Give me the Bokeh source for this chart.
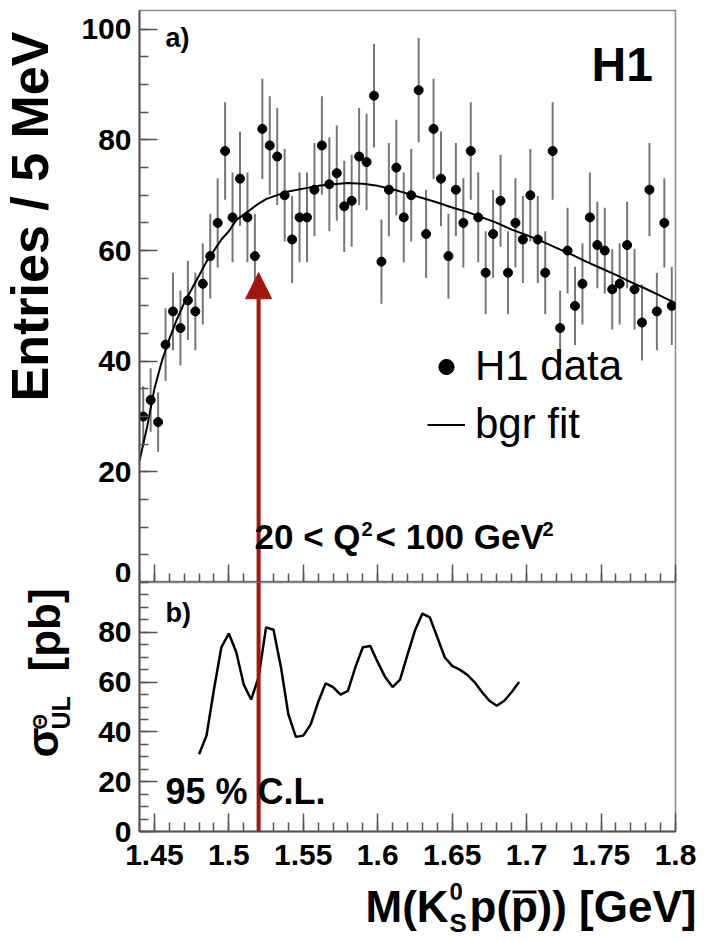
import numpy as np
from bokeh.plotting import figure
from bokeh.layouts import column, row
from bokeh.models import (Range1d, FixedTicker, Label, Arrow, NormalHead, Span, BoxAnnotation,
                          Legend, LegendItem, ColumnDataSource)
from bokeh.embed import file_html
from bokeh.resources import INLINE

# ---------------- data ----------------
bin_low = 1.44
bin_width = 0.005
entries = [30, 33, 29, 43, 49, 46, 51, 49, 54, 59,
           65, 78, 66, 73, 66, 59, 82, 79, 77, 70,
           62, 66, 66, 71, 79, 72, 74, 68, 69, 77,
           76, 88, 58, 71, 75, 66, 70, 89, 63, 82,
           73, 59, 71, 65, 78, 66, 56, 63, 69, 56,
           65, 62, 70, 62, 56, 78, 46, 60, 50, 54,
           66, 61, 60, 53, 54, 61, 53, 47, 71, 49,
           65, 50]

fit_mass = [1.440, 1.445, 1.450, 1.455, 1.460, 1.465, 1.470, 1.475, 1.480, 1.485,
            1.490, 1.495, 1.500, 1.505, 1.510, 1.515, 1.520, 1.525, 1.530, 1.540,
            1.550, 1.560, 1.570, 1.580, 1.590, 1.600, 1.610, 1.620, 1.630, 1.640,
            1.650, 1.660, 1.670, 1.680, 1.690, 1.700, 1.710, 1.720, 1.730, 1.740,
            1.750, 1.760, 1.770, 1.780, 1.790, 1.800]
fit_entries = [22, 28, 35, 40, 44, 47.5, 50.5, 53, 55.5, 58,
               60, 62, 63.5, 65.5, 66.5, 67.5, 68.5, 69.3, 69.8, 70.7,
               71.2, 71.7, 72, 72.2, 72.1, 71.7, 71.1, 70.3, 69.5, 68.7,
               67.8, 67, 66, 65, 63.8, 62.8, 61.7, 60.5, 59.3, 58,
               56.8, 55.6, 54.3, 53.1, 51.8, 50.5]

ul_mass = [1.480, 1.485, 1.490, 1.495, 1.500, 1.505, 1.510, 1.515, 1.520, 1.525,
           1.530, 1.535, 1.540, 1.545, 1.550, 1.555, 1.560, 1.565, 1.570, 1.575,
           1.580, 1.585, 1.590, 1.595, 1.600, 1.605, 1.610, 1.615, 1.620, 1.625,
           1.630, 1.635, 1.640, 1.645, 1.650, 1.655, 1.660, 1.665, 1.670, 1.675,
           1.680, 1.685, 1.690, 1.695]
ul_sigma = [31, 38.5, 57, 74, 79.5, 72, 59, 53, 62, 82,
            81, 66, 47, 38, 38.5, 43, 52, 59.5, 58, 55,
            56.5, 66, 74, 74.5, 68, 62, 58, 61, 71, 80.7,
            87.5, 86, 78, 70, 66.5, 65, 63, 60, 56, 52.5,
            50.5, 52.5, 56, 60]

arrow_mass = 1.52
arrow_tip = 56

x_ticks = [1.45, 1.5, 1.55, 1.6, 1.65, 1.7, 1.75, 1.8]
x_tick_labels = ["1.45", "1.5", "1.55", "1.6", "1.65", "1.7", "1.75", "1.8"]
x_minor = [round(1.44 + 0.01 * i, 2) for i in range(37)]
top_y_ticks = [0, 20, 40, 60, 80, 100]
bot_y_ticks = [0, 20, 40, 60, 80]
y_minor = list(range(0, 105, 5))

# ---------------- helpers ----------------
FONT = "Liberation Sans"
RED = "#a3160f"
AX = "#555555"
MID = 0.45  # distance (in em) from baseline to the middle of the text box

mass = [bin_low + bin_width * (i + 0.5) for i in range(len(entries))]
err = np.sqrt(np.array(entries, dtype=float))
src = ColumnDataSource(dict(x=mass, y=entries,
                            lo=np.array(entries) - err, hi=np.array(entries) + err))


def style_axes(p, show_x_labels):
    p.grid.grid_line_color = None
    p.outline_line_color = "#8a8a8a"
    p.outline_line_width = 1.5
    p.background_fill_color = "white"
    p.border_fill_color = "white"
    for ax in (p.xaxis[0], p.yaxis[0]):
        ax.axis_line_color = AX
        ax.axis_line_width = 2
        ax.major_tick_line_color = AX
        ax.minor_tick_line_color = AX
        ax.major_tick_line_width = 1.5
        ax.minor_tick_line_width = 1.5
        ax.major_tick_in = 18
        ax.major_tick_out = 0
        ax.minor_tick_in = 9
        ax.minor_tick_out = 0
        ax.major_label_text_font = FONT
        ax.major_label_text_font_style = "bold"
        ax.major_label_text_font_size = "30px"
        ax.major_label_text_color = "black"
    p.xaxis.ticker = FixedTicker(ticks=x_ticks, minor_ticks=x_minor)
    p.xaxis.major_label_overrides = dict(zip(x_ticks, x_tick_labels))
    p.yaxis.major_label_standoff = 8
    if show_x_labels:
        p.xaxis.major_label_standoff = 13
    else:
        p.xaxis.major_label_text_font_size = "0px"
        p.xaxis.major_label_text_color = None
        p.xaxis.major_label_standoff = 0


def lab(p, text, x, y, size, bold=True, vertical=False, align="left"):
    """x, y: position of the text baseline start (screen px, frame-relative)."""
    if vertical:
        x, angle = x - MID * size, np.pi / 2
    else:
        y, angle = y + MID * size, 0.0
    p.add_layout(Label(x=x, y=y, x_units="screen", y_units="screen", text=text,
                       text_font=FONT, text_font_size=f"{size}px",
                       text_font_style="bold" if bold else "normal",
                       text_color="black", angle=angle, text_align=align,
                       text_baseline="middle"))


def blank(width, height):
    f = figure(width=width, height=height, x_range=Range1d(0, 1), y_range=Range1d(0, 1),
               output_backend="svg", toolbar_location=None,
               x_axis_location=None, y_axis_location=None, min_border=0)
    f.grid.grid_line_color = None
    f.outline_line_color = None
    return f


# ---------------- top panel ----------------
top = figure(width=632, height=582, x_range=Range1d(1.44, 1.80), y_range=Range1d(0, 103.4),
             output_backend="svg", toolbar_location=None,
             min_border_left=59, min_border_right=35, min_border_top=10, min_border_bottom=0)
style_axes(top, False)
top.yaxis.ticker = FixedTicker(ticks=top_y_ticks, minor_ticks=y_minor)

top.segment(x0="x", y0="lo", x1="x", y1="hi", source=src, line_color="#777777", line_width=2)
fit_r = top.line(fit_mass, fit_entries, line_color="black", line_width=2)
pts = top.scatter("x", "y", source=src, size=9, fill_color="black", line_color="black")

top.add_layout(Arrow(end=NormalHead(size=26, fill_color=RED, line_color=RED, line_width=1),
                     x_start=arrow_mass, y_start=0, x_end=arrow_mass, y_end=arrow_tip,
                     line_color=RED, line_width=4))

legend = Legend(items=[LegendItem(label="H1 data", renderers=[pts]),
                       LegendItem(label="bgr fit", renderers=[fit_r])],
                location=(288, 134), border_line_color=None, background_fill_alpha=0,
                label_text_font=FONT, label_text_font_size="42px", label_text_color="black",
                glyph_width=38, glyph_height=45, label_height=45, spacing=10,
                padding=10, label_standoff=10)
top.add_layout(legend)

# top frame: left edge at page x=137, bottom edge at page y=582
lab(top, "a)", 26, 532, 27)
lab(top, "H1", 452, 496, 48)
lab(top, "20 < Q", 115, 30, 35)
lab(top, "2", 222, 45, 20)
lab(top, "< 100 GeV", 236, 30, 35)
lab(top, "2", 403, 45, 20)

# ---------------- bottom panel ----------------
bot = figure(width=632, height=294, x_range=top.x_range, y_range=Range1d(0, 100),
             output_backend="svg", toolbar_location=None,
             min_border_left=59, min_border_right=35, min_border_top=0, min_border_bottom=45)
style_axes(bot, True)
bot.yaxis.ticker = FixedTicker(ticks=bot_y_ticks, minor_ticks=y_minor)

bot.line(ul_mass, ul_sigma, line_color="black", line_width=2.5)
bot.add_layout(Span(location=arrow_mass, dimension="height", line_color=RED, line_width=4))

# bottom frame: left edge at page x=137, bottom edge at page y=831
lab(bot, "b)", 26, 206, 27)
lab(bot, "95 % C.L.", 26, 24, 36)

# ---------------- axis titles (own canvases) ----------------
ytitle = blank(78, 876)          # page x 0..78, y 0..876
lab(ytitle, "Entries / 5 MeV", 53, 660, 52, vertical=True, align="center")
lab(ytitle, "σ", 62, 119, 44, vertical=True)
lab(ytitle, "Θ", 48, 147, 20, vertical=True)
lab(ytitle, "UL", 72, 147, 25, vertical=True)
lab(ytitle, "[pb]", 64, 205, 44, vertical=True)

xtitle = blank(710, 65)          # page x 0..710, y 876..941
lab(xtitle, "M(K", 365, 15, 44)
lab(xtitle, "0", 449, 39, 24)
lab(xtitle, "S", 449, 7, 26)
lab(xtitle, "p(p", 469, 15, 44)
xtitle.add_layout(BoxAnnotation(left=512, right=536, bottom=48, top=51,
                                left_units="screen", right_units="screen",
                                bottom_units="screen", top_units="screen",
                                fill_color="black", fill_alpha=1, line_color=None))
lab(xtitle, ")) [GeV]", 537, 15, 44)

layout = column(row(ytitle, column(top, bot, spacing=0), spacing=0), xtitle, spacing=0)
open("out.html", "w").write(file_html(layout, INLINE))
